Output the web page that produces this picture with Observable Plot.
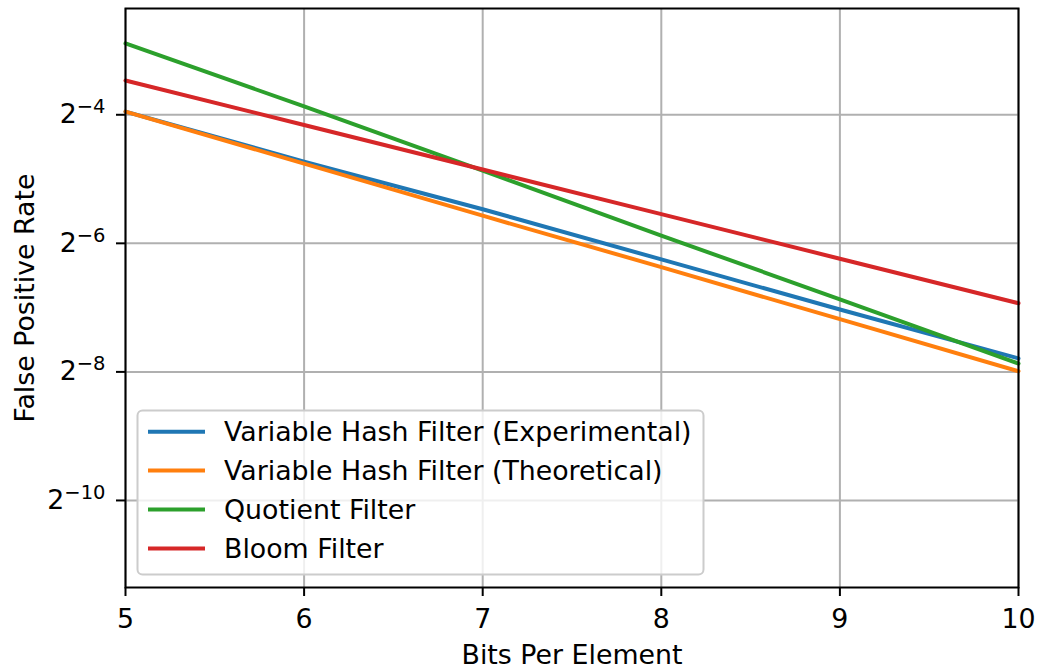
<!DOCTYPE html>
<html>
<head>
<meta charset="utf-8">
<script src="https://cdn.jsdelivr.net/npm/d3@7"></script>
<script src="https://cdn.jsdelivr.net/npm/@observablehq/plot@0.6"></script>
<style>
  body { margin: 0; background: #fff; }
  #chart { width: 1040px; height: 672px; }
</style>
</head>
<body>
<div id="chart"></div>
<script>
// ---- Data ----
const bitsPerElement = [5, 6, 7, 8, 9, 10];
const vhfExperimental = [0.0647, 0.03768, 0.02256, 0.01314, 0.007652, 0.004518];
const vhfTheoretical  = [0.0647, 0.03691, 0.02105, 0.01209, 0.006896, 0.003933];
const quotientFilter  = [0.1349, 0.06839, 0.0342, 0.01698, 0.008549, 0.004275];
const bloomFilter     = [0.09051, 0.05598, 0.03462, 0.02141, 0.01324, 0.00819];
const seriesNames = [
  "Variable Hash Filter (Experimental)",
  "Variable Hash Filter (Theoretical)",
  "Quotient Filter",
  "Bloom Filter"
];
const seriesColors = ["#1f77b4", "#ff7f0e", "#2ca02c", "#d62728"];
const xTicks = [5, 6, 7, 8, 9, 10];
const yTicks = [0.0625, 0.015625, 0.00390625, 0.0009765625];
const xLabel = "Bits Per Element";
const yLabel = "False Positive Rate";

const seriesValues = [vhfExperimental, vhfTheoretical, quotientFilter, bloomFilter];
const rows = seriesNames.flatMap((name, i) =>
  bitsPerElement.map((b, j) => ({ series: name, bits: b, rate: seriesValues[i][j] }))
);

const FONT = "DejaVu Sans";
const FS = 26.8;
const plot = Plot.plot({
  width: 1040,
  height: 672,
  marginTop: 8,
  marginRight: 22,
  marginBottom: 85,
  marginLeft: 125,
  style: { fontFamily: FONT, fontSize: FS + "px", background: "#fff", color: "#000", overflow: "visible" },
  x: { domain: [5, 10] },
  y: { type: "log", base: 2, domain: [0.000382, 0.1966] },
  color: { domain: seriesNames, range: seriesColors },
  marks: [
    Plot.gridX(xTicks, { stroke: "#b0b0b0", strokeOpacity: 1, strokeWidth: 2 }),
    Plot.gridY(yTicks, { stroke: "#b0b0b0", strokeOpacity: 1, strokeWidth: 2 }),
    Plot.lineY(rows, { x: "bits", y: "rate", z: "series", stroke: "series", strokeWidth: 4 }),
    Plot.frame({ stroke: "#000", strokeWidth: 2 }),
    Plot.axisX(xTicks, {
      tickSize: 9, tickPadding: 12, strokeWidth: 2, fontSize: FS, label: null,
      tickFormat: d => String(d)
    }),
    Plot.axisY(yTicks, {
      tickSize: 9, tickPadding: 11, strokeWidth: 2, fontSize: FS, label: null,
      tickFormat: d => "\u2212" + Math.abs(Math.round(Math.log2(d)))
    }),
    Plot.text([xLabel], {
      text: d => d, frameAnchor: "bottom", lineAnchor: "middle", textAnchor: "middle",
      dy: 68, fontSize: FS
    }),
    Plot.text([yLabel], {
      text: d => d, frameAnchor: "left", textAnchor: "middle", lineAnchor: "middle",
      dx: -100, rotate: -90, fontSize: FS
    })
  ]
});

document.getElementById("chart").appendChild(plot);

// Superscript tick labels: 2^−n
d3.select(plot).selectAll('g[aria-label="y-axis tick label"] text').each(function () {
  const t = d3.select(this);
  const e = t.text();
  t.text("2");
  t.append("tspan").attr("dy", "-10").attr("font-size", "19.5").text(e);
});

// Legend inside the plot (lower left)
const lg = d3.select(plot).append("g")
  .attr("font-family", FONT).attr("font-size", FS).attr("text-anchor", "start");
lg.append("rect")
  .attr("x", 137.5).attr("y", 410.5).attr("width", 566).attr("height", 164).attr("rx", 5)
  .attr("fill", "#fff").attr("fill-opacity", 0.8)
  .attr("stroke", "#cccccc").attr("stroke-width", 2);
seriesNames.forEach((name, i) => {
  const cy = 431.7 + i * 38.9;
  lg.append("line")
    .attr("x1", 148).attr("x2", 205).attr("y1", cy).attr("y2", cy)
    .attr("stroke", seriesColors[i]).attr("stroke-width", 4);
  lg.append("text")
    .attr("x", 224).attr("y", cy + 9.7).attr("fill", "#000").attr("text-anchor", "start").text(name);
});
</script>
</body>
</html>
